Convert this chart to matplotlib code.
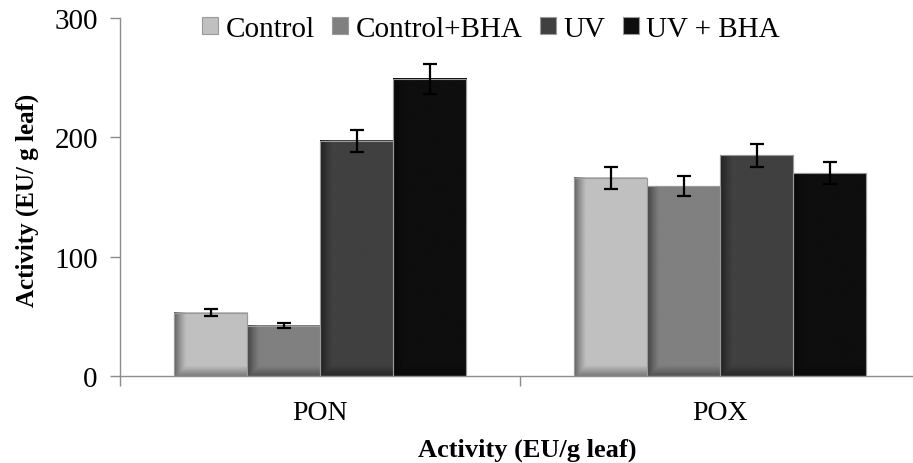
import numpy as np
import matplotlib.pyplot as plt
from matplotlib.ticker import FixedLocator

# --- Данные ---
categories = ["PON", "POX"]
series = ["Control", "Control+BHA", "UV", "UV + BHA"]
values = {
    "Control": [53, 166],
    "Control+BHA": [42, 159],
    "UV": [197, 185],
    "UV + BHA": [249, 170],
}
errors = {
    "Control": [3, 9],
    "Control+BHA": [2, 8.5],
    "UV": [9, 9.5],
    "UV + BHA": [12.5, 9],
}
colors = ["#c0c0c0", "#808080", "#404040", "#0e0e0e"]
y_ticks = [0, 100, 200, 300]

plt.rcParams['font.family'] = ['Liberation Serif', 'DejaVu Serif']

fig = plt.figure(figsize=(9.13, 4.64), dpi=100)
ax = fig.add_axes([120 / 913, 1 - 377 / 464, 800 / 913, 358 / 464])

x = np.arange(len(categories))
width = 0.1825
bars_all = []
for i, name in enumerate(series):
    pos = x + (i - 1.5) * width
    bars = ax.bar(pos, values[name], width, color=colors[i], edgecolor="#9a9a9a",
                  linewidth=0.8, label=name, zorder=2)
    bars_all.append((bars, colors[i]))

ax.set_xlim(-0.5, 1.5)
ax.set_ylim(0, 300)

# --- Градиентная заливка в стиле Excel (тень слева и сверху) ---
for bars, c in bars_all:
    base = np.array(plt.matplotlib.colors.to_rgb(c))
    for p in bars:
        x0, w, h = p.get_x(), p.get_width(), p.get_height()
        nx, ny = 60, 120
        gx = np.linspace(0, 1, nx)
        shade_x = np.clip(gx / 0.16, 0, 1) ** 0.8 * 0.5 + 0.5
        px_h = h * 358 / 300
        gy = np.linspace(0, px_h, ny)[::-1]  # от верха к низу в пикселях
        shade_y = np.clip(gy / 10.0, 0, 1) * 0.35 + 0.65
        shade = np.minimum(shade_x[None, :], shade_y[:, None])
        shade = shade[::-1]
        img = np.clip(base[None, None, :] * shade[:, :, None], 0, 1)
        ax.imshow(img, extent=(x0, x0 + w, 0, h), origin="lower",
                  aspect="auto", zorder=2.5, interpolation="bilinear")
        ax.add_patch(plt.Rectangle((x0, 0), w, h, fill=False, edgecolor="#9a9a9a",
                                   linewidth=0.8, zorder=2.6))

for i, name in enumerate(series):
    pos = x + (i - 1.5) * width
    ax.errorbar(pos, values[name], yerr=errors[name], fmt="none", ecolor="black",
                elinewidth=1.6, capsize=5, capthick=1.6, zorder=4)

ax.set_xlim(-0.5, 1.5)
ax.set_ylim(0, 300)
ax.set_aspect("auto")

# --- Оси ---
for s in ["top", "right"]:
    ax.spines[s].set_visible(False)
for s in ["left", "bottom"]:
    ax.spines[s].set_color("#8c8c8c")
    ax.spines[s].set_linewidth(1.0)

ax.set_yticks(y_ticks)
ax.tick_params(axis="y", length=7, width=1.0, color="#8c8c8c", labelsize=21, pad=9)
ax.set_xticks(x)
ax.set_xticklabels(categories)
ax.tick_params(axis="x", which="major", length=0, labelsize=20, pad=17)
ax.xaxis.set_minor_locator(FixedLocator([-0.5, 0.5, 1.5]))
ax.tick_params(axis="x", which="minor", length=7, width=1.0, color="#8c8c8c")

ax.set_ylabel("Activity (EU/ g leaf)", fontsize=18, fontweight="bold")
ax.yaxis.set_label_coords(-0.101, 0.494)
fig.text(527 / 913, 7 / 464, "Activity (EU/g leaf)", fontsize=19, fontweight="bold",
         ha="center", va="baseline")

leg = ax.legend(loc="center left", bbox_to_anchor=(0.103, 0.97), ncol=4, frameon=False,
                fontsize=21, handlelength=0.55, handleheight=0.55, handletextpad=0.25,
                columnspacing=0.6, borderaxespad=0, borderpad=0)

plt.savefig("out.png", dpi=100)
